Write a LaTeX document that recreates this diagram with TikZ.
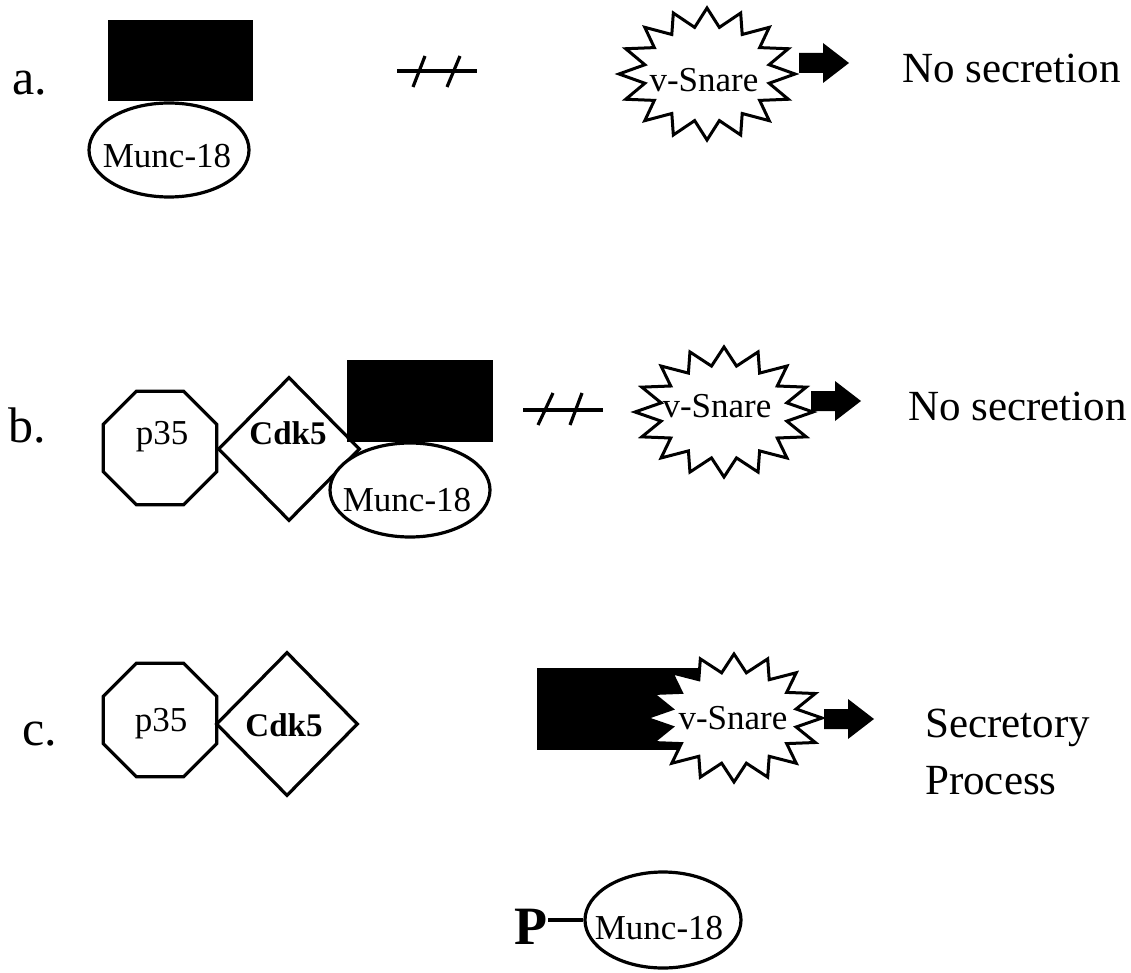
\documentclass[tikz,border=0pt]{standalone}
\usepackage{fontspec}
\setmainfont{Liberation Serif}
\usetikzlibrary{shapes.geometric}
\tikzset{
  outl/.style={draw=black, line width=3.2pt, fill=white, inner sep=0pt},
  blk/.style={fill=black, draw=none, inner sep=0pt},
  txt/.style={inner sep=0pt, font=\fontsize{35}{40}\selectfont},
  txtb/.style={inner sep=0pt, font=\fontsize{33}{40}\selectfont\bfseries},
  big/.style={inner sep=0pt, font=\fontsize{43}{52}\selectfont, anchor=base west},
  rowlbl/.style={inner sep=0pt, font=\fontsize{50}{60}\selectfont, anchor=base west},
  mellipse/.style={ellipse, outl, minimum width=160pt, minimum height=94pt},
  octo/.style={regular polygon, regular polygon sides=8, outl, minimum size=123pt},
  dia/.style={diamond, outl, minimum width=142pt, minimum height=144pt},
  strike/.style={line width=3.2pt},
  starline/.style={draw=black, line width=3pt, fill=white, line join=miter, miter limit=20},
}
\newcommand\snarestar[4]{%
  \draw[starline] plot[samples at={0,...,31}]
    ({#1+#3*(1-0.28*mod(\x,2))*cos(\x*11.25)}, {#2+#4*(1-0.28*mod(\x,2))*sin(\x*11.25)}) -- cycle;
}
\newcommand\blockarrow[1]{%
  \fill (#1) ++(0,-10) -- ++(24,0) -- ++(0,-10) -- ++(26,20) -- ++(-26,20) -- ++(0,-10) -- ++(-24,0) -- cycle;
}
\begin{document}
\begin{tikzpicture}[x=1pt,y=-1pt]
\useasboundingbox (0,0) rectangle (1131,973);

% ---------- row a ----------
\node[rowlbl] (la) at (12,95) {a.};
\node[mellipse] (ma) at (169,150) {};
\node[txt] (mat) at (167,156) {Munc-18};
\node[blk, minimum width=145pt, minimum height=81pt] (ra) at (180.5,60.5) {};
\draw[strike] (397,71) -- (477,71);
\draw[strike] (413,87) -- (425,56);
\draw[strike] (447,87) -- (460,56);
\snarestar{707}{74}{88}{66}
\node[txt] (va) at (704,80) {v-Snare};
\coordinate (aa) at (799,63);
\blockarrow{aa}
\node[big] (na) at (902,83) {No secretion};

% ---------- row b ----------
\node[rowlbl] (lb) at (8,442) {b.};
\node[octo] (p35b) at (160,448) {};
\node[txt] (p35bt) at (162,437) {p35};
\node[dia] (cdkb) at (289,449) {};
\node[txtb] (cdkbt) at (288,433) {Cdk5};
\node[mellipse] (mb) at (410,490) {};
\node[txt] (mbt) at (407,500) {Munc-18};
\node[blk, minimum width=146pt, minimum height=82pt] (rb) at (420,401) {};
\draw[strike] (523,410) -- (603,410);
\draw[strike] (538,425) -- (553,393);
\draw[strike] (570,425) -- (582,393);
\snarestar{724}{412}{89}{65}
\node[txt] (vb) at (717,406) {v-Snare};
\coordinate (ab) at (811,401);
\blockarrow{ab}
\node[big] (nb) at (908,420) {No secretion};

% ---------- row c ----------
\node[rowlbl] (lc) at (22,745) {c.};
\node[octo] (p35c) at (160,720) {};
\node[txt] (p35ct) at (161,724) {p35};
\node[dia] (cdkc) at (287,724) {};
\node[txtb] (cdkct) at (284,725) {Cdk5};
\node[blk, minimum width=163pt, minimum height=82pt] (rc) at (618.5,709) {};
\snarestar{734}{718}{88}{64}
\node[txt] (vc) at (733,718) {v-Snare};
\coordinate (ac) at (824,719);
\blockarrow{ac}
\node[big] (sc) at (925,737) {Secretory};
\node[big] (pc) at (925,794) {Process};

% ---------- bottom ----------
\node[mellipse, minimum width=156pt, minimum height=96pt] (md) at (663,920) {};
\node[txt] (mdt) at (659,928) {Munc-18};
\node[inner sep=0pt, anchor=base, font=\fontsize{54}{60}\selectfont\bfseries] (P) at (531,944) {P};
\draw[strike] (md.west) -- (md.west -| P.east);
\end{tikzpicture}
\end{document}
